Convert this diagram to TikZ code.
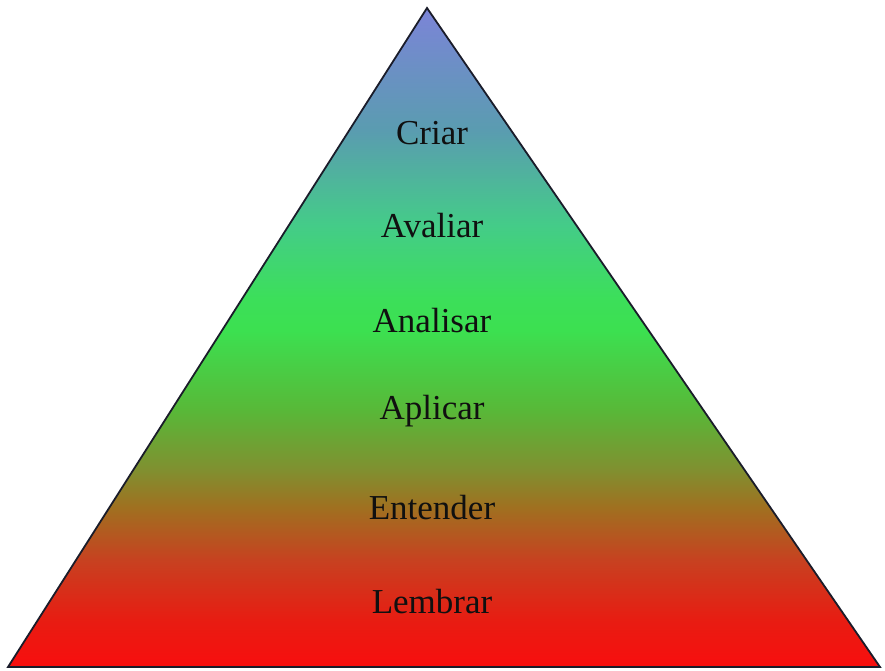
\documentclass[tikz,border=0pt]{standalone}
\usepackage{fontspec}
\setmainfont{Liberation Serif}
\usetikzlibrary{positioning}
\definecolor{pyink}  {HTML}{1A1C2A}
\definecolor{pytext} {HTML}{101010}
\definecolor{pytop}  {HTML}{7C84D8}
\definecolor{pyblue} {HTML}{5A9CB0}
\definecolor{pyteal} {HTML}{44CC88}
\definecolor{pylime} {HTML}{3CDF5A}
\definecolor{pygreen}{HTML}{3CE050}
\definecolor{pygrass}{HTML}{58B838}
\definecolor{pyolive}{HTML}{809030}
\definecolor{pybrown}{HTML}{A07020}
\definecolor{pyrust} {HTML}{C84020}
\definecolor{pyred}  {HTML}{E81C12}
\definecolor{pybase} {HTML}{F80E0E}
\pgfdeclareverticalshading{pyshade}{100bp}{%
  color(0bp)=(pybase); color(25bp)=(pybase); color(28.5bp)=(pyred);
  color(33bp)=(pyrust); color(37.1bp)=(pybrown); color(40bp)=(pyolive);
  color(44.5bp)=(pygrass); color(50.5bp)=(pygreen); color(53bp)=(pylime);
  color(58.5bp)=(pyteal); color(65.7bp)=(pyblue); color(75bp)=(pytop);
  color(100bp)=(pytop)}
\tikzset{
  pylevel/.style={font=\fontsize{35}{35}\selectfont, text=pytext, inner sep=0pt},
  pyedge/.style={draw=pyink, line width=1.8pt, line join=miter},
}
\begin{document}
\begin{tikzpicture}[x=1pt, y=-1pt]
  \useasboundingbox (0,0) rectangle (885,670);
  % the pyramid
  \coordinate (apex) at (427,8);
  \coordinate (baseL) at (8,667);
  \coordinate (baseR) at (880,667);
  \shade[shading=pyshade] (apex) -- (baseR) -- (baseL) -- cycle;
  \draw[pyedge] (apex) -- (baseR) -- (baseL) -- cycle;
  % levels, top to bottom
  \foreach \name/\y/\txt in {criar/133/Criar, avaliar/226/Avaliar,
                             analisar/321/Analisar, aplicar/411/Aplicar,
                             entender/508/Entender, lembrar/602/Lembrar}
    { \node[pylevel] (\name) at (432,\y) {\txt}; }
\end{tikzpicture}
\end{document}
